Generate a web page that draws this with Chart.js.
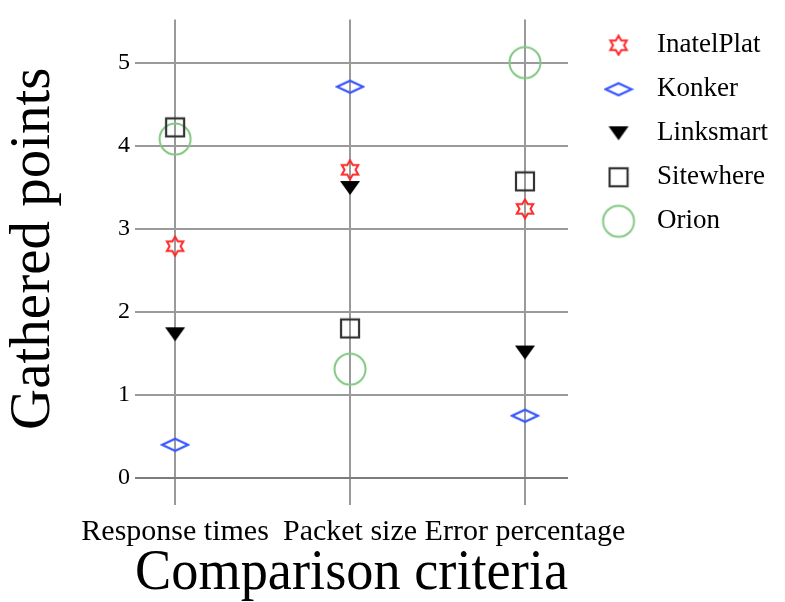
<!DOCTYPE html>
<html>
<head>
<meta charset="utf-8">
<script src="https://cdn.jsdelivr.net/npm/chart.js@4"></script>
<style>
    html, body { margin: 0; padding: 0; background: #fff; }
    #wrap { width: 785px; height: 602px; }
</style>
</head>
<body>
<div id="wrap"><canvas id="chart"></canvas></div>
<script>
// Chart data
const criteria = ['Response times', 'Packet size', 'Error percentage'];
const yTicks = [0, 1, 2, 3, 4, 5];
const inatelPlat = [2.79, 3.71, 3.24];
const konker = [0.40, 4.71, 0.75];
const linksmart = [1.73, 3.49, 1.51];
const sitewhere = [4.22, 1.80, 3.57];
const orion = [4.08, 1.31, 5.00];

const serif = 'Liberation Serif';
const plotRight = 568;   // right edge of the plot area
const padRight = 7;

/**
 * Build a small canvas used as a point style
 */
function makeMarker(w, h, draw) {
    const c = document.createElement('canvas');
    c.width = w;
    c.height = h;
    const ctx = c.getContext('2d');
    draw(ctx, w, h);
    return c;
}

// Six pointed star outline (red)
const starMarker = makeMarker(22, 22, function(ctx) {
    const R = 9.5, r = R / Math.sqrt(3);
    ctx.beginPath();
    for (let i = 0; i < 12; i++) {
        const a = -Math.PI / 2 + i * Math.PI / 6;
        const rad = i % 2 === 0 ? R : r;
        const px = 11 + rad * Math.cos(a);
        const py = 11 + rad * Math.sin(a);
        if (i === 0) ctx.moveTo(px, py); else ctx.lineTo(px, py);
    }
    ctx.closePath();
    ctx.strokeStyle = 'rgb(255, 40, 40)';
    ctx.lineWidth = 2;
    ctx.stroke();
});

// Flat diamond (blue)
const diamondMarker = makeMarker(30, 16, function(ctx) {
    ctx.beginPath();
    ctx.moveTo(2, 8);
    ctx.lineTo(15, 2);
    ctx.lineTo(28, 8);
    ctx.lineTo(15, 14);
    ctx.closePath();
    ctx.strokeStyle = 'rgb(55, 85, 255)';
    ctx.lineWidth = 2.2;
    ctx.stroke();
});

// Filled down triangle (black)
const triangleMarker = makeMarker(22, 16, function(ctx) {
    ctx.beginPath();
    ctx.moveTo(1, 1);
    ctx.lineTo(21, 1);
    ctx.lineTo(11, 15);
    ctx.closePath();
    ctx.fillStyle = '#000';
    ctx.fill();
});

// Square outline (dark gray)
const squareMarker = makeMarker(22, 22, function(ctx) {
    ctx.strokeStyle = '#333';
    ctx.lineWidth = 2.2;
    ctx.strokeRect(2, 2, 18, 18);
});

// Circle outline (green)
const circleMarker = makeMarker(36, 36, function(ctx) {
    ctx.beginPath();
    ctx.arc(18, 18, 15.5, 0, Math.PI * 2);
    ctx.strokeStyle = 'rgb(130, 200, 130)';
    ctx.lineWidth = 2;
    ctx.stroke();
});

function toPoints(values) {
    return values.map((v, i) => ({ x: i, y: v }));
}

function makeDataset(label, values, marker) {
    return {
        label: label,
        data: toPoints(values),
        pointStyle: marker,
        pointRadius: 10,
        showLine: false
    };
}

const ctx = document.getElementById('chart');

new Chart(ctx, {
    type: 'scatter',
    data: {
        datasets: [
            makeDataset('InatelPlat', inatelPlat, starMarker),
            makeDataset('Konker', konker, diamondMarker),
            makeDataset('Linksmart', linksmart, triangleMarker),
            makeDataset('Sitewhere', sitewhere, squareMarker),
            makeDataset('Orion', orion, circleMarker)
        ]
    },
    options: {
        responsive: true,
        maintainAspectRatio: false,
        animation: false,
        layout: {
            padding: { top: 10, left: 0, right: padRight, bottom: 0 }
        },
        scales: {
            x: {
                type: 'linear',
                min: -0.229,
                max: 2.246,
                afterBuildTicks: function(scale) {
                    scale.ticks = criteria.map((c, i) => ({ value: i }));
                },
                afterFit: function(scale) {
                    scale.height = 124;
                },
                ticks: {
                    color: '#000',
                    padding: 9,
                    maxRotation: 0,
                    autoSkip: false,
                    font: { family: serif, size: 30 },
                    callback: function(value) {
                        return criteria[value];
                    }
                },
                grid: {
                    color: '#9a9a9a',
                    lineWidth: 2,
                    tickLength: 27
                },
                border: { display: false },
                title: {
                    display: true,
                    text: 'Comparison criteria',
                    color: '#000',
                    font: { family: serif, size: 56, lineHeight: 1.0 },
                    padding: { top: 0, bottom: 0 }
                }
            },
            y: {
                min: 0,
                max: 5.52,
                afterBuildTicks: function(scale) {
                    scale.ticks = yTicks.map(v => ({ value: v }));
                },
                afterFit: function(scale) {
                    scale.width = 135;
                },
                ticks: {
                    color: '#000',
                    padding: 5,
                    font: { family: serif, size: 24 }
                },
                grid: {
                    color: function(c) {
                        return c.tick && c.tick.value === 0 ? '#7c7c7c' : '#9a9a9a';
                    },
                    lineWidth: 2,
                    drawTicks: false
                },
                border: { display: false },
                title: {
                    display: true,
                    text: 'Gathered points',
                    color: '#000',
                    font: { family: serif, size: 57 },
                    padding: { top: 0, bottom: 0 }
                }
            },
            // empty spacer between plot and legend
            gap: {
                type: 'linear',
                position: 'right',
                display: true,
                ticks: { display: false },
                grid: { display: false },
                border: { display: false },
                afterFit: function(scale) {
                    const legendWidth = scale.chart.legend ? scale.chart.legend.width : 0;
                    scale.width = Math.max(0, 785 - plotRight - legendWidth - padRight);
                }
            }
        },
        plugins: {
            legend: {
                position: 'right',
                align: 'start',
                maxWidth: 206,
                title: {
                    display: true,
                    text: '',
                    font: { size: 4 },
                    padding: 0
                },
                labels: {
                    usePointStyle: true,
                    pointStyleWidth: 50,
                    padding: 17,
                    color: '#000',
                    font: { family: serif, size: 27 }
                }
            },
            tooltip: { enabled: false }
        }
    }
});
</script>
</body>
</html>
